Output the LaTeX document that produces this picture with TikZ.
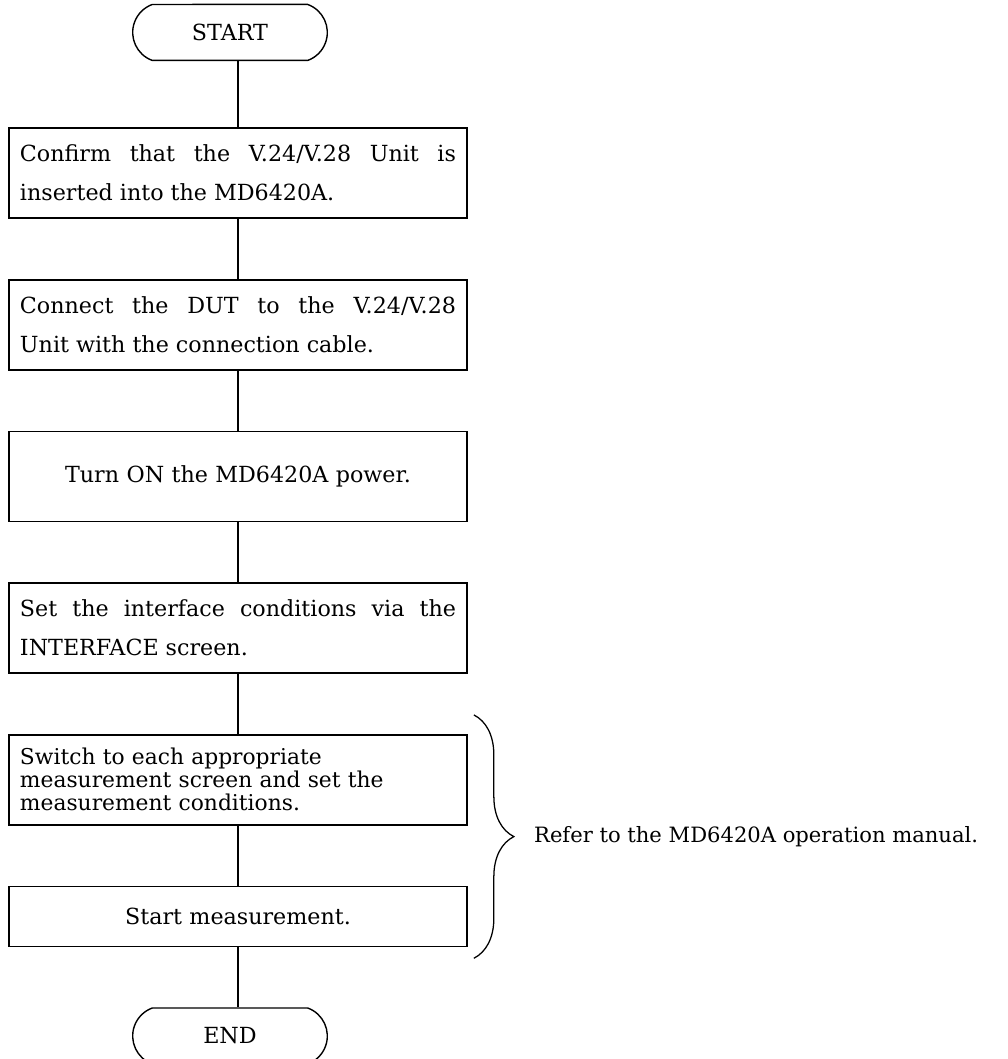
\documentclass[tikz,border=0pt]{standalone}
\usepackage{fontspec}
\setmainfont{DejaVu Serif}
\usetikzlibrary{shapes.misc, positioning, calc, decorations.pathreplacing}
\tolerance=10000
\hbadness=10000
\hyphenpenalty=10000
\exhyphenpenalty=10000
\tikzstyle{terminal} = [rounded rectangle, rounded rectangle arc length=140,
                        minimum width=5.1cm, minimum height=1.4cm,
                        draw=black, line width=1pt,
                        font=\fontsize{15.8}{20}\selectfont]
\tikzstyle{process} = [rectangle, minimum width=11.45cm, minimum height=2.25cm,
                       text width=10.9cm, inner xsep=0.275cm, align=justify,
                       draw=black, line width=1.2pt,
                       font=\fontsize{15.8}{27.6}\selectfont]
\tikzstyle{link} = [line width=0.8pt]
\tikzstyle{brace} = [decorate, decoration={brace, amplitude=1cm}, line width=0.9pt]

\begin{document}
\begin{tikzpicture}[node distance=1.5cm]
        \useasboundingbox (0,0) rectangle (25.175,-26.475);
        
        \node (Confirm) [process] at (5.95,-4.325) {Confirm that the V.24/V.28 Unit is\linebreak inserted into the MD6420A.};
        
        \node (Start) [terminal, above=1.65cm of Confirm, xshift=-0.2cm] {START};
        
        \node (Connect) [process, below=of Confirm] {Connect the DUT to the V.24/V.28\linebreak Unit with the connection cable.};
        
        \node (Power) [process, align=center, below=of Connect] {Turn ON the MD6420A power.};
        
        \node (Interface) [process, below=of Power] {Set the interface conditions via the\linebreak INTERFACE screen.};
        
        \node (Switch) [process, align=left, below=of Interface,
                        font=\fontsize{15.5}{16.3}\selectfont] {Switch to each appropriate\\measurement screen and set the\\measurement conditions.};
        
        \node (Measure) [process, align=center, below=of Switch, minimum height=1.5cm] {Start measurement.};
        
        \node (End) [terminal, below=of Measure, xshift=-0.2cm] {END};
        
        
        \draw [link] (Start.south -| Confirm) -- (Confirm); %start
        \draw [link] (Confirm) -- (Connect);
        \draw [link] (Connect) -- (Power);
        \draw [link] (Power) -- (Interface);
        \draw [link] (Interface) -- (Switch);
        \draw [link] (Switch) -- (Measure);
        \draw [link] (Measure) -- (End.north -| Measure); %end
        
        
        \coordinate (BraceTop) at ([shift={(0.15,0.475)}]Switch.north east);
        \coordinate (BraceBottom) at ([shift={(0.15,-0.275)}]Measure.south east);
        \coordinate (BraceMid) at ($(BraceTop)!0.5!(BraceBottom)$);
        \draw [brace] (BraceTop) -- (BraceBottom);
        \node (Manual) [right=1.5cm of BraceMid, inner sep=0pt,
                        font=\fontsize{15}{18}\selectfont] {Refer to the MD6420A operation manual.};
        
    \end{tikzpicture}
\end{document}
